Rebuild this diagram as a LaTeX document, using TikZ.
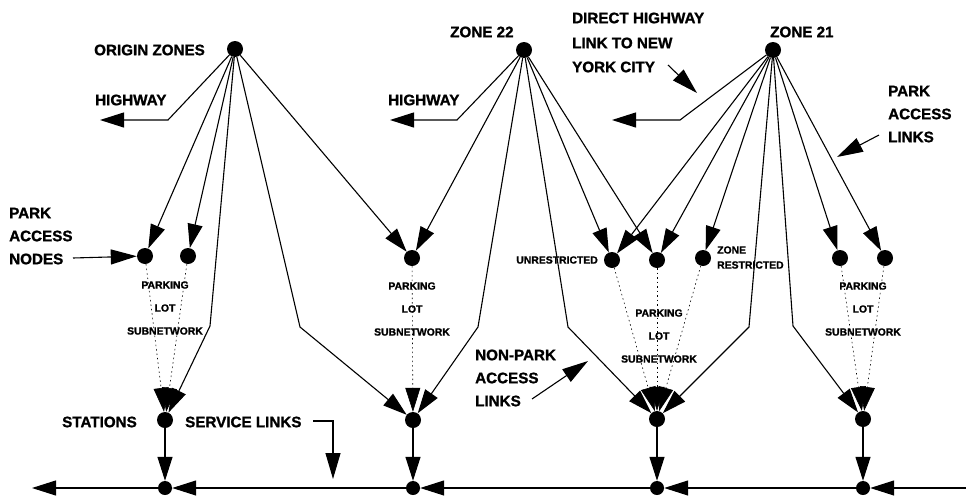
\documentclass[tikz,border=0pt]{standalone}
\usepackage{fontspec}
\setmainfont{Liberation Sans}
\newfontfamily\heavyfont[FakeBold=1.2]{Liberation Sans Bold}
\usetikzlibrary{arrows.meta}
\begin{document}
\begin{tikzpicture}[x=1pt,y=-1pt,
  dot/.style={circle,fill=black,inner sep=0pt,minimum size=16pt},
  bdot/.style={circle,fill=black,inner sep=0pt,minimum size=14pt},
  lnk/.style={line width=1.1pt,-{Triangle[length=24pt,width=15pt]}},
  ptr/.style={line width=1.1pt,-{Triangle[length=26pt,width=15pt]}},
  sub/.style={line width=0.6pt,dash pattern=on 1.5pt off 3pt,-{Triangle[length=24pt,width=15pt]}},
  big/.style={font=\fontsize{15.2}{18}\heavyfont,inner sep=0pt},
  small/.style={font=\fontsize{10.4}{12}\heavyfont,inner sep=0pt},
]
\useasboundingbox (0,0) rectangle (966,498);
% top nodes
\node[dot] (O) at (235,49) {};
\node[dot] (Z22) at (524,50) {};
\node[dot] (Z21) at (773,50) {};
% park access nodes
\node[dot] (P1) at (145,256) {};
\node[dot] (P2) at (188,256) {};
\node[dot] (P3) at (412,258) {};
\node[dot] (P4) at (612,260) {};
\node[dot] (P5) at (657,260) {};
\node[dot] (P6) at (703,258) {};
\node[dot] (P7) at (840,258) {};
\node[dot] (P8) at (885,258) {};
% stations
\node[dot] (S1) at (165,420) {};
\node[dot] (S2) at (413,420) {};
\node[dot] (S3) at (657,419) {};
\node[dot] (S4) at (863,419) {};
% bottom line nodes
\node[bdot] (B1) at (165,488) {};
\node[bdot] (B2) at (413,488) {};
\node[bdot] (B3) at (657,488) {};
\node[bdot] (B4) at (863,488) {};
% bend and end coordinates
\coordinate (h1) at (168,120);
\coordinate (h1t) at (100,120);
\coordinate (h2) at (457,120);
\coordinate (h2t) at (390,120);
\coordinate (h3) at (680,120);
\coordinate (h3t) at (612,120);
\coordinate (k1) at (210,326);
\coordinate (k2) at (300,327);
\coordinate (k3) at (478,327);
\coordinate (k4) at (568,327);
\coordinate (k5) at (749,327);
\coordinate (k6) at (793,326);
\coordinate (Rend) at (966,488);
\coordinate (Lend) at (32,488);
% labels
\node[big,anchor=west] at (94,50) {ORIGIN ZONES};
\node[big,anchor=west] at (450,32) {ZONE 22};
\node[big,anchor=west] at (770,32) {ZONE 21};
\node[big,anchor=west] at (572,18) {DIRECT HIGHWAY};
\node[big,anchor=west] at (572,43) {LINK TO NEW};
\node[big,anchor=west] (york) at (572,67) {YORK CITY};
\node[big,anchor=west] at (95,100) {HIGHWAY};
\node[big,anchor=west] at (388,100) {HIGHWAY};
\node[big,anchor=west] at (888,91) {PARK};
\node[big,anchor=west] at (888,114) {ACCESS};
\node[big,anchor=west] (links) at (888,137) {LINKS};
\node[big,anchor=west] at (9,213) {PARK};
\node[big,anchor=west] at (9,236) {ACCESS};
\node[big,anchor=west] (nodes) at (9,259) {NODES};
\node[big,anchor=west] at (62,422) {STATIONS};
\node[big,anchor=west] (serv) at (185,422) {SERVICE LINKS};
\node[big,anchor=west] at (475,355) {NON-PARK};
\node[big,anchor=west] at (475,378) {ACCESS};
\node[big,anchor=west] (npl) at (475,401) {LINKS};
\node[small,anchor=east] at (598,260) {UNRESTRICTED};
\node[small,anchor=west] at (717,250) {ZONE};
\node[small,anchor=west] at (717,265) {RESTRICTED};
\foreach \x/\y in {165/285,412/286,659/313,863/286}{
  \node[small] at (\x,\y) {PARKING};
  \node[small] at (\x,\y+23) {LOT};
  \node[small] at (\x,\y+46) {SUBNETWORK};
}
% pointer arrows
\coordinate (ya) at (668,65);
\coordinate (yb) at (697,93);
\draw[ptr] (ya) -- (yb);
\coordinate (la) at (879,135);
\coordinate (lb) at (837,157);
\draw[ptr] (la) -- (lb);
\coordinate (na) at (73,258);
\draw[ptr] (na) -- (P1);
\coordinate (npa) at (532,399);
\coordinate (npb) at (588,361);
\draw[ptr] (npa) -- (npb);
\coordinate (sa) at (313,421);
\coordinate (sb) at (333,479);
\draw[ptr] (sa) -| (sb);
% links from origin zones
\draw[lnk] (O) -- (h1) -- (h1t);
\draw[lnk] (O) -- (P1);
\draw[lnk] (O) -- (P2);
\draw[lnk] (O) -- (P3);
\draw[lnk] (O) -- (k1) -- (S1);
\draw[lnk] (O) -- (k2) -- (S2);
% links from zone 22
\draw[lnk] (Z22) -- (h2) -- (h2t);
\draw[lnk] (Z22) -- (P3);
\draw[lnk] (Z22) -- (k3) -- (S2);
\draw[lnk] (Z22) -- (k4) -- (S3);
\draw[lnk] (Z22) -- (P4);
\draw[lnk] (Z22) -- (P5);
% links from zone 21
\draw[lnk] (Z21) -- (h3) -- (h3t);
\draw[lnk] (Z21) -- (P4);
\draw[lnk] (Z21) -- (P5);
\draw[lnk] (Z21) -- (P6);
\draw[lnk] (Z21) -- (k5) -- (S3);
\draw[lnk] (Z21) -- (k6) -- (S4);
\draw[lnk] (Z21) -- (P7);
\draw[lnk] (Z21) -- (P8);
% parking lot subnetworks
\draw[sub] (P1) -- (S1);
\draw[sub] (P2) -- (S1);
\draw[sub] (P3) -- (S2);
\draw[sub] (P4) -- (S3);
\draw[sub] (P5) -- (S3);
\draw[sub] (P6) -- (S3);
\draw[sub] (P7) -- (S4);
\draw[sub] (P8) -- (S4);
% station to line
\draw[lnk] (S1) -- (B1);
\draw[lnk] (S2) -- (B2);
\draw[lnk] (S3) -- (B3);
\draw[lnk] (S4) -- (B4);
% service line
\draw[lnk] (Rend) -- (B4);
\draw[lnk] (B4) -- (B3);
\draw[lnk] (B3) -- (B2);
\draw[lnk] (B2) -- (B1);
\draw[lnk] (B1) -- (Lend);
\end{tikzpicture}
\end{document}
